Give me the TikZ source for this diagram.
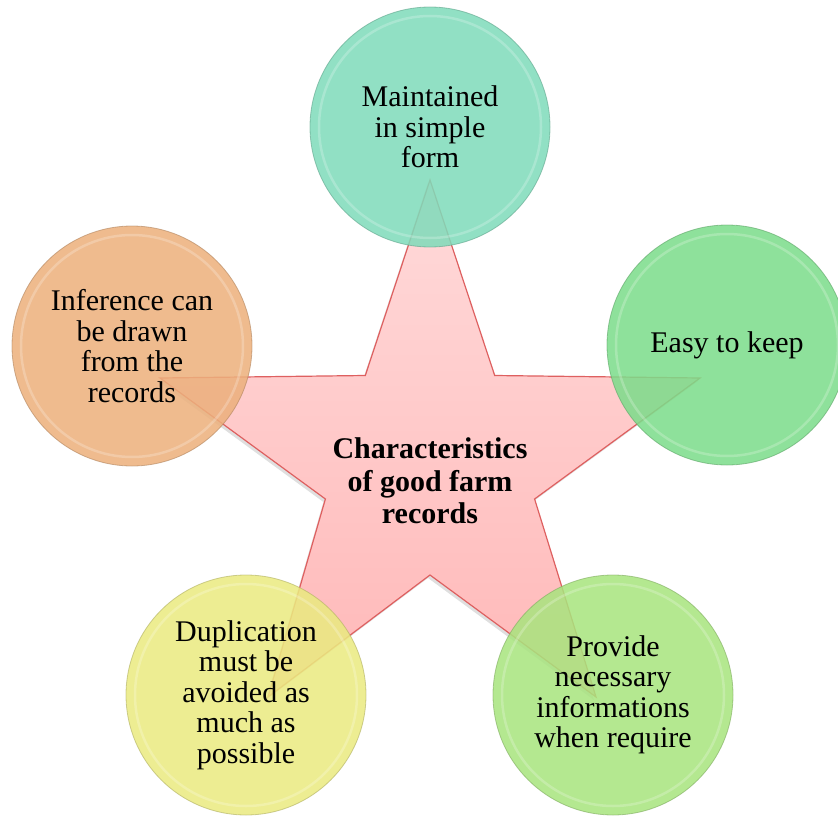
\documentclass[tikz,border=0pt]{standalone}
\usepackage{fontspec}
\setmainfont{Liberation Serif}
\usetikzlibrary{shadows}
\definecolor{cteal}{RGB}{127,219,186}
\definecolor{cgreen}{RGB}{124,220,138}
\definecolor{corange}{RGB}{236,176,124}
\definecolor{cyellow}{RGB}{234,234,128}
\definecolor{clime}{RGB}{168,228,126}
\definecolor{startop}{RGB}{255,218,218}
\definecolor{starbot}{RGB}{255,184,184}
\definecolor{starline}{RGB}{222,96,96}
\begin{document}
\begin{tikzpicture}[x=1pt,y=-1pt,
  bubble/.style={circle, minimum size=240pt, inner sep=0pt, fill=#1, fill opacity=0.86,
    draw=#1!75!black, draw opacity=0.6, line width=0.8pt, align=center,
    font=\fontsize{30}{30.5}\selectfont, text=black, text opacity=1},
  bevel/.style={draw=white, line width=2.5pt, opacity=0.22},
  startext/.style={align=center, font=\fontsize{30}{32.5}\selectfont\bfseries, text=black}]
\useasboundingbox (0,0) rectangle (838,816);
% star
\coordinate (p0) at (430,180);
\coordinate (i0) at (494.7,375.5);
\coordinate (p1) at (700,378);
\coordinate (i1) at (534.6,499);
\coordinate (p2) at (596,697);
\coordinate (i2) at (430,575);
\coordinate (p3) at (268,697);
\coordinate (i3) at (325.4,499);
\coordinate (p4) at (160,378);
\coordinate (i4) at (365.3,375.5);
\path[top color=startop, bottom color=starbot, draw=starline, line width=1.2pt,
  drop shadow={opacity=0.25, shadow xshift=-2pt, shadow yshift=-3pt}]
  (p0) -- (i0) -- (p1) -- (i1) -- (p2) -- (i2) -- (p3) -- (i3) -- (p4) -- (i4) -- cycle;
\node[startext] (center) at (430,481) {Characteristics\\of good farm\\records};
% circles
\node[bubble=cteal] (top) at (430,127) {Maintained\\in simple\\form};
\draw[bevel] (top) circle[radius=111];
\node[bubble=cgreen] (right) at (727,345) {Easy to keep};
\draw[bevel] (right) circle[radius=111];
\node[bubble=corange] (left) at (132,346) {Inference can\\be drawn\\from the\\records};
\draw[bevel] (left) circle[radius=111];
\node[bubble=cyellow] (bleft) at (246,695) {Duplication\\must be\\avoided as\\much as\\possible};
\draw[bevel] (bleft) circle[radius=111];
\node[bubble=clime] (bright) at (613,695) {Provide\\necessary\\informations\\when require};
\draw[bevel] (bright) circle[radius=111];
\end{tikzpicture}
\end{document}
